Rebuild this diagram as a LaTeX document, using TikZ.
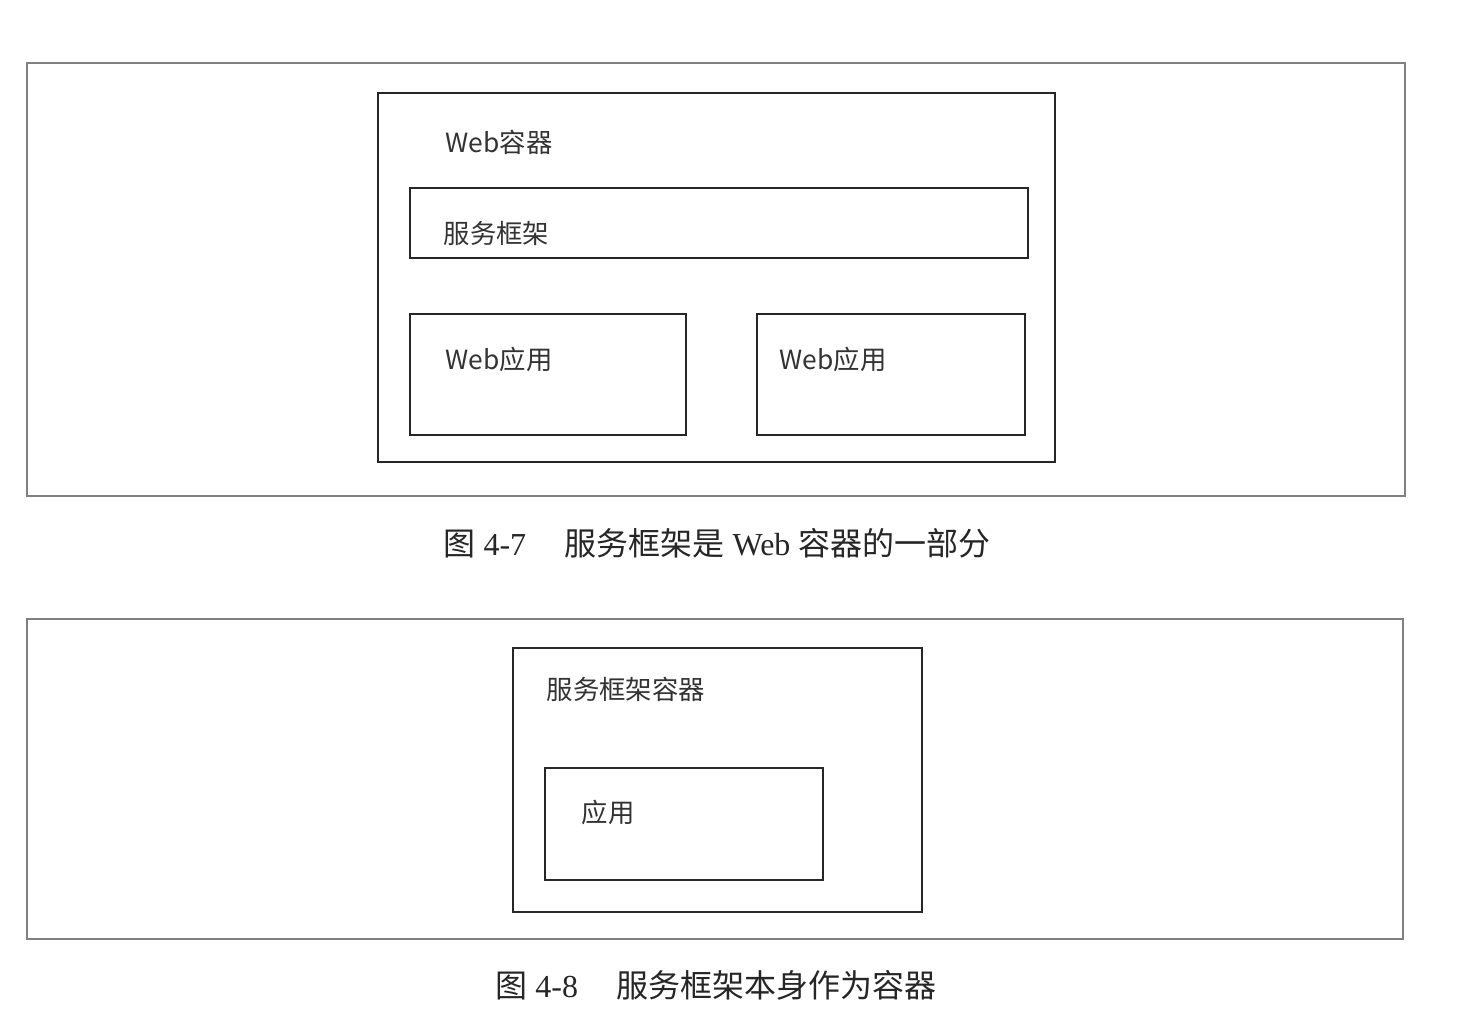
\documentclass[tikz,border=0pt]{standalone}
\usepackage{fontspec}
\setmainfont{Liberation Serif}
\newfontfamily\cjk{Noto Sans CJK SC}
\begin{document}
\begin{tikzpicture}[x=0.01cm,y=-0.01cm,
  frame/.style={draw=black!50,line width=0.45pt},
  box/.style={draw=black!85,line width=0.75pt},
  lbl/.style={anchor=base west,inner sep=0pt,font=\cjk\fontsize{7.5}{8}\selectfont,text=black!80},
  figcap/.style={anchor=base,inner sep=0pt,font=\fontsize{9.1}{10}\selectfont,text=black!85}]
\useasboundingbox (0,0) rectangle (1466,1020);
% figure 4-7
\draw[frame] (27,63) rectangle (1405,496);
\draw[box] (378,93) rectangle (1055,462);
\node[lbl] (l1) at (445,152) {Web容器};
\draw[box] (410,188) rectangle (1028,258);
\node[lbl] (l2) at (443,243) {服务框架};
\draw[box] (410,314) rectangle (686,435);
\node[lbl] (l3) at (445,369) {Web应用};
\draw[box] (757,314) rectangle (1025,435);
\node[lbl] (l4) at (779,369) {Web应用};
\node[figcap] (c1) at (717,555) {{\cjk 图} 4-7\hspace{1.2em}{\cjk 服务框架是} Web {\cjk 容器的一部分}};
% figure 4-8
\draw[frame] (27,619) rectangle (1403,939);
\draw[box] (513,648) rectangle (922,912);
\node[lbl] (l5) at (546,699) {服务框架容器};
\draw[box] (545,768) rectangle (823,880);
\node[lbl] (l6) at (581,822) {应用};
\node[figcap] (c2) at (716,997) {{\cjk 图} 4-8\hspace{1.2em}{\cjk 服务框架本身作为容器}};
\end{tikzpicture}
\end{document}
